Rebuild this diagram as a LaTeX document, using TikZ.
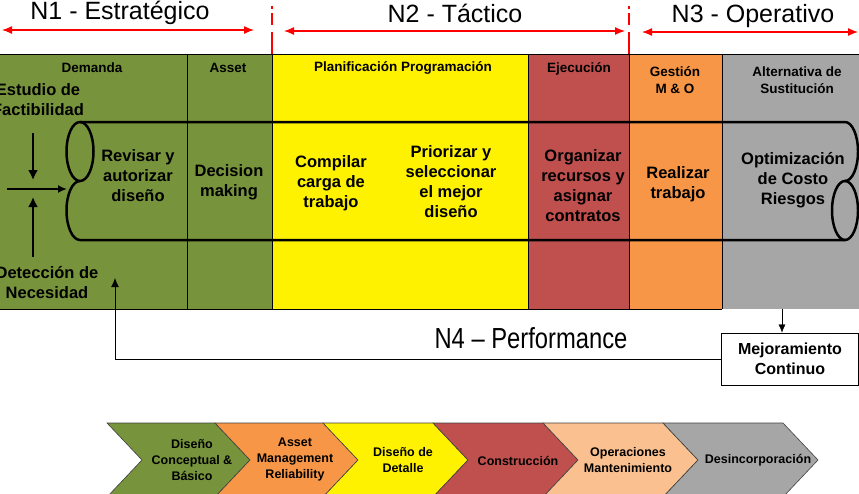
\documentclass[tikz,border=0pt]{standalone}
\usepackage{fontspec}
\setmainfont{Liberation Sans}
\newfontfamily\narrowsans[FakeStretch=0.82]{Liberation Sans}
\usetikzlibrary{arrows.meta}

\definecolor{olivegreen}{RGB}{119,147,60}
\definecolor{brick}{RGB}{192,80,77}
\definecolor{tangerine}{RGB}{247,150,70}
\definecolor{peach}{RGB}{250,192,144}
\definecolor{midgray}{RGB}{166,166,166}

\begin{document}
\begin{tikzpicture}[x=1pt, y=-1pt,
    ttl/.style={font=\fontsize{25}{30}\selectfont},
    hdr/.style={font=\fontsize{13.5}{16.5}\selectfont\bfseries, align=center},
    body/.style={font=\fontsize{16.5}{20}\selectfont\bfseries, align=center},
    chv/.style={font=\fontsize{12.5}{16}\selectfont\bfseries, align=center},
    chevron/.style={draw=black!75, line width=0.6pt},
    levelarrow/.style={red, line width=1.3pt, {Latex[length=10pt,width=8pt]}-{Latex[length=10pt,width=8pt]}},
    levelcut/.style={red, line width=2.5pt, dash pattern=on 3pt off 4pt on 12pt off 7pt on 30pt off 0pt},
    pipe/.style={line width=2.5pt},
    feed/.style={line width=2.5pt, -{Latex[length=10pt,width=10pt]}}]
        \useasboundingbox (0,0) rectangle (859,493);
        \clip (0,0) rectangle (859,493);

        % niveles
        \node[ttl] (n1) at (120,12.5) {N1 - Estratégico};
        \node[ttl] (n2) at (455,13) {N2 - Táctico};
        \node[ttl] (n3) at (753,16) {N3 - Operativo};
        \coordinate (n1a) at (2,30);   \coordinate (n1b) at (254,30);
        \coordinate (n2a) at (284,31); \coordinate (n2b) at (625,31);
        \coordinate (n3a) at (642,32); \coordinate (n3b) at (858,32);
        \draw[levelarrow] (n1a) -- (n1b);
        \draw[levelarrow] (n2a) -- (n2b);
        \draw[levelarrow] (n3a) -- (n3b);
        \draw[levelcut] (272,6) -- (272,54);
        \draw[levelcut] (629,6) -- (629,54);

        % columnas
        \fill[olivegreen] (0,54) rectangle (272,309);
        \fill[yellow] (272,54) rectangle (528,309);
        \fill[brick] (528,54) rectangle (629,309);
        \fill[tangerine] (629,54) rectangle (722,309);
        \fill[midgray] (722,54) rectangle (859,309);
        \draw (0,54) -- (859,54);
        \draw (0,309) -- (722,309);
        \draw (187,54) -- (187,309);
        \draw (272,54) -- (272,309);
        \draw (528,54) -- (528,309);
        \draw (629,54) -- (629,309);
        \draw (722,54) -- (722,309);

        \node[hdr] (hdem) at (92,68) {Demanda};
        \node[hdr] (hasset) at (228,68) {Asset};
        \node[hdr] (hplan) at (403,68) {Planificación Programación};
        \node[hdr] (hejec) at (579,69) {Ejecución};
        \node[hdr] (hgest) at (675,80) {Gestión\\M \& O};
        \node[hdr] (halt) at (797,80) {Alternativa de\\Sustitución};

        % tubo
        \draw[pipe] (80,151.5) ellipse [x radius=13.5pt, y radius=29.5pt];
        \draw[pipe] (845,210.5) ellipse [x radius=13pt, y radius=29.5pt];
        \draw[pipe] (80,122) -- (845,122)
            arc[start angle=90, end angle=-90, x radius=13pt, y radius=29.5pt];
        \draw[pipe] (845,240) -- (80,240)
            arc[start angle=270, end angle=90, x radius=13.5pt, y radius=29.5pt];

        \node[body] (revisar) at (138,176) {Revisar y\\autorizar\\diseño};
        \node[body] (decision) at (229,182) {Decision\\making};
        \node[body] (compilar) at (331,183) {Compilar\\carga de\\trabajo};
        \node[body] (priorizar) at (451,182) {Priorizar y\\seleccionar\\el mejor\\diseño};
        \node[body] (organizar) at (583,186) {Organizar\\recursos y\\asignar\\contratos};
        \node[body] (realizar) at (678,184) {Realizar\\trabajo};
        \node[body] (optim) at (793,180) {Optimización\\de Costo\\Riesgos};

        % entradas
        \node[body] (estudio) at (38,100) {Estudio de\\Factibilidad};
        \node[body] (deteccion) at (47,283) {Detección de\\Necesidad};
        \coordinate (din) at (33,133);  \coordinate (dout) at (33,180);
        \coordinate (uin) at (33,257);  \coordinate (uout) at (33,197);
        \coordinate (hin) at (7,189);   \coordinate (hout) at (67,189);
        \draw[feed] (din) -- (dout);
        \draw[feed] (uin) -- (uout);
        \draw[line width=2pt, -{Latex[length=9pt,width=8pt]}] (hin) -- (hout);

        % N4
        \node[draw, fill=white, line width=1pt, minimum width=137pt, minimum height=52pt,
            font=\fontsize{16}{20}\selectfont\bfseries, align=center] (mejora) at (790,359)
            {Mejoramiento\\Continuo};
        \node[font=\narrowsans\fontsize{29}{34}\selectfont] (n4) at (531,338) {N4 – Performance};
        \coordinate (altout) at (782,309);
        \coordinate (retorno) at (115,278);
        \draw[-{Latex[length=8pt,width=7pt]}] (altout) -- (altout |- mejora.north);
        \draw[line width=0.9pt, -{Latex[length=9pt,width=8pt]}] (mejora.west) -| (retorno);

        % ciclo de vida
        \filldraw[chevron, fill=olivegreen] (107,423) -- (215,423) -- (250,460) -- (215,497) -- (107,497) -- (142,460) -- cycle;
        \filldraw[chevron, fill=tangerine] (215,423) -- (323,423) -- (358,460) -- (323,497) -- (215,497) -- (250,460) -- cycle;
        \filldraw[chevron, fill=yellow] (323,423) -- (433,423) -- (468,460) -- (433,497) -- (323,497) -- (358,460) -- cycle;
        \filldraw[chevron, fill=brick] (433,423) -- (543,423) -- (578,460) -- (543,497) -- (433,497) -- (468,460) -- cycle;
        \filldraw[chevron, fill=peach] (543,423) -- (663,423) -- (698,460) -- (663,497) -- (543,497) -- (578,460) -- cycle;
        \filldraw[chevron, fill=midgray] (663,423) -- (783,423) -- (818,460) -- (783,497) -- (663,497) -- (698,460) -- cycle;

        \node[chv] (conceptual) at (192,460) {Diseño\\Conceptual \&\\Básico};
        \node[chv] (management) at (295,459) {Asset\\Management\\Reliability};
        \node[chv] (detalle) at (403,460) {Diseño de\\Detalle};
        \node[chv] (construccion) at (518,461) {Construcción};
        \node[chv] (operaciones) at (628,460) {Operaciones\\Mantenimiento};
        \node[chv] (desinc) at (758,460) {Desincorporación};
    \end{tikzpicture}
\end{document}
